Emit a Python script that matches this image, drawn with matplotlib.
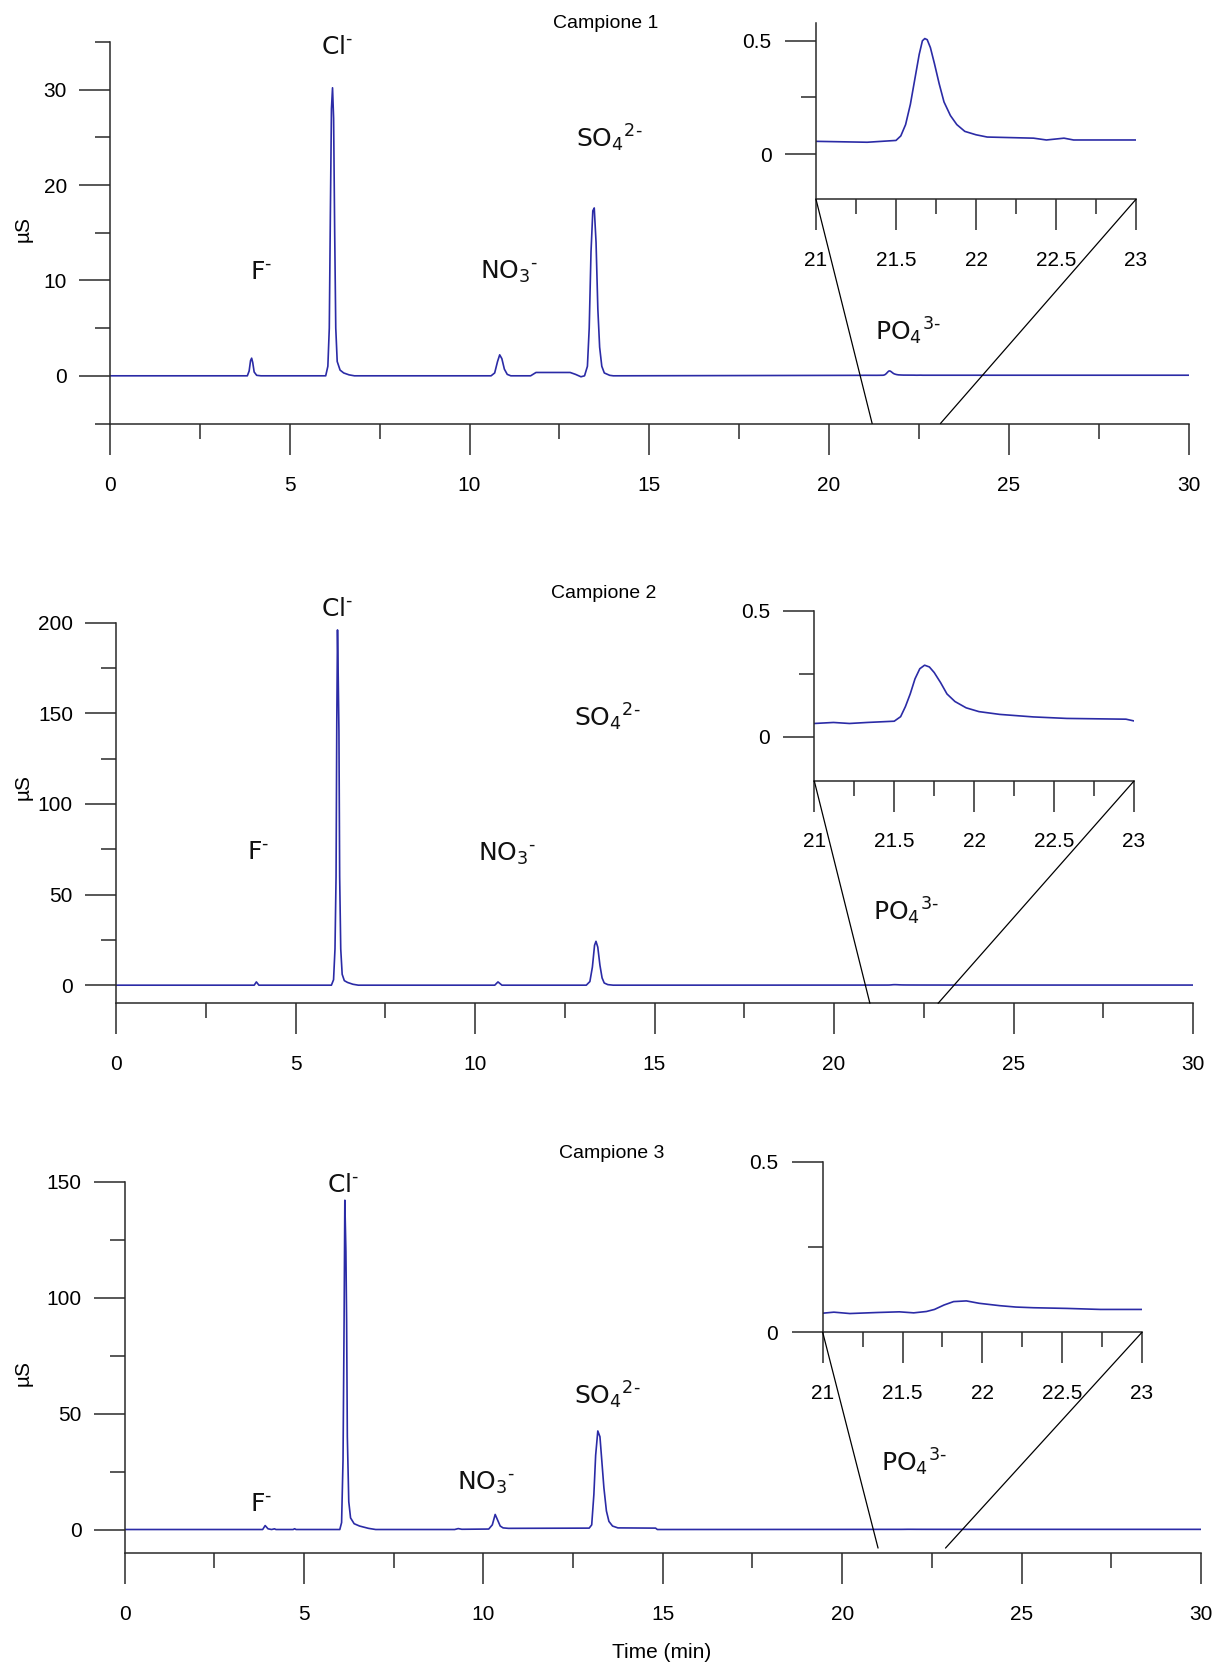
import matplotlib
matplotlib.use("Agg")
import matplotlib.pyplot as plt
from matplotlib.patches import ConnectionPatch

plt.rcParams['font.family'] = ['Liberation Sans', 'DejaVu Sans']
plt.rcParams['mathtext.fontset'] = 'dejavusans'

# --- chromatogram traces (time in min, signal in uS) ---
t1 = [0, 3.82, 3.87, 3.91, 3.94, 3.97, 4.01, 4.08, 4.2,
      6.0, 6.06, 6.1, 6.13, 6.16, 6.19, 6.22, 6.25, 6.28, 6.32, 6.4, 6.5, 6.65, 6.8,
      10.6, 10.7, 10.78, 10.84, 10.9, 10.97, 11.05, 11.15,
      11.7, 11.85, 12.8, 12.95, 13.1, 13.2, 13.28, 13.33, 13.38, 13.43, 13.47, 13.52,
      13.57, 13.62, 13.68, 13.75, 13.9, 14.0,
      20.9, 21.0, 21.32, 21.5, 21.53, 21.56, 21.59, 21.62, 21.645, 21.665, 21.68, 21.695,
      21.715, 21.74, 21.77, 21.8, 21.84, 21.88, 21.93, 22.0, 22.07, 22.36, 22.44, 22.55,
      22.61, 23.0, 30]
s1 = [0, 0, 0.5, 1.6, 1.85, 1.4, 0.4, 0.05, 0,
      0, 1, 5, 17, 28, 30.2, 27, 15, 5, 1.5, 0.6, 0.3, 0.1, 0,
      0, 0.3, 1.5, 2.2, 1.8, 0.7, 0.15, 0,
      0, 0.35, 0.35, 0.15, -0.1, 0, 1, 5, 13, 17.3, 17.6, 14,
      7, 3, 1, 0.3, 0.05, 0,
      0.05, 0.056, 0.052, 0.06, 0.08, 0.13, 0.22, 0.34, 0.44, 0.5, 0.51, 0.505,
      0.47, 0.4, 0.31, 0.23, 0.17, 0.13, 0.1, 0.085, 0.075, 0.07, 0.062, 0.07,
      0.062, 0.062, 0.062]

t2 = [0, 3.85, 3.91, 3.98,
      6.0, 6.06, 6.1, 6.13, 6.15, 6.17, 6.19, 6.21, 6.23, 6.26, 6.3, 6.36, 6.45, 6.6, 6.75,
      10.55, 10.64, 10.75,
      13.1, 13.2, 13.27, 13.33, 13.37, 13.42, 13.48, 13.54, 13.6, 13.7, 13.85,
      20.9, 21.0, 21.12, 21.22, 21.33, 21.5, 21.54, 21.57, 21.6, 21.63, 21.66, 21.69,
      21.72, 21.75, 21.79, 21.83, 21.88, 21.95, 22.03, 22.16, 22.37, 22.58, 22.95, 23.0, 30]
s2 = [0, 0, 1.8, 0,
      0, 3, 20, 60, 145, 196, 170, 140, 60, 20, 6, 2.5, 1.5, 0.5, 0,
      0, 1.8, 0,
      0, 2, 10, 22, 24.2, 21, 11, 4, 1.2, 0.3, 0,
      0.05, 0.053, 0.057, 0.053, 0.057, 0.062, 0.08, 0.12, 0.17, 0.23, 0.27, 0.284,
      0.277, 0.255, 0.215, 0.17, 0.14, 0.115, 0.1, 0.089, 0.079, 0.073, 0.07, 0.063, 0.063]

t3 = [0, 3.85, 3.92, 4.0, 4.1, 4.18, 4.22, 4.7, 4.74, 4.78,
      6.0, 6.05, 6.09, 6.12, 6.14, 6.17, 6.19, 6.21, 6.25, 6.3, 6.4, 6.55, 6.8, 7.0,
      9.2, 9.3, 9.4,
      10.15, 10.25, 10.33, 10.4, 10.47, 10.55, 10.7,
      12.95, 13.02, 13.08, 13.13, 13.19, 13.25, 13.3, 13.36, 13.43, 13.5, 13.6, 13.75,
      14.8, 14.85,
      20.9, 21.0, 21.07, 21.17, 21.34, 21.48, 21.57, 21.65, 21.7, 21.76, 21.82, 21.9,
      21.98, 22.11, 22.21, 22.32, 22.53, 22.74, 23.0, 30]
s3 = [0, 0, 1.7, 0.3, 0, 0.3, 0, 0, 0.35, 0,
      0, 3, 30, 90, 142, 120, 90, 40, 12, 5, 2.5, 1.5, 0.5, 0,
      0, 0.4, 0.1,
      0.2, 2, 6.5, 4, 1.5, 0.7, 0.5,
      0.6, 2, 15, 32, 42.5, 40, 30, 18, 8, 3.5, 1.5, 0.7,
      0.6, 0,
      0.05, 0.056, 0.059, 0.055, 0.058, 0.06, 0.057, 0.061, 0.067, 0.08, 0.09, 0.092,
      0.085, 0.078, 0.074, 0.072, 0.07, 0.067, 0.067, 0.067]

times = [t1, t2, t3]
signals = [s1, s2, s3]
titles = ['Campione 1', 'Campione 2', 'Campione 3']

# axis scales
main_ylim = [(-5, 35), (-10, 200), (-10, 150)]
main_yticks = [[0, 10, 20, 30], [0, 50, 100, 150, 200], [0, 50, 100, 150]]
main_yminor = [[-5, 5, 15, 25, 35], [25, 75, 125, 175], [25, 75, 125]]
main_xticks = [0, 5, 10, 15, 20, 25, 30]
main_xminor = [2.5, 7.5, 12.5, 17.5, 22.5, 27.5]

inset_ylim = [(-0.2, 0.58), (-0.175, 0.5), (0, 0.5)]
inset_yticks = [0, 0.5]
inset_ylabels = ['0', '0.5']
inset_xticks = [21, 21.5, 22, 22.5, 23]
inset_xlabels = ['21', '21.5', '22', '22.5', '23']
inset_xminor = [21.25, 21.75, 22.25, 22.75]

# where the zoom lines land on the main time axis
zoom_feet_x = [(21.2, 23.1), (21.0, 22.9), (21.0, 22.88)]
zoom_feet_y = [-5, -10, -8]

# ion labels (text, x, y in data units of each panel)
ions = ['F$^{‐}$', 'Cl$^{‐}$', 'NO$_3$$^{‐}$', 'SO$_4$$^{2‐}$', 'PO$_4$$^{3‐}$']
ion_x = [[4.2, 6.33, 11.1, 13.9, 22.2],
         [3.97, 6.17, 10.9, 13.67, 22.0],
         [3.8, 6.08, 10.09, 13.44, 22.0]]
ion_y = [[10.9, 34.5, 10.9, 24.9, 4.7],
         [73.3, 207.6, 72.7, 147.8, 41],
         [11.2, 148.7, 20.1, 58, 29]]

# layout in pixels of the 1214 x 1668 canvas: left, right, top, bottom
W, H = 1214, 1668
main_px = [(110, 1188.5, 42, 423.5), (116, 1193, 622.7, 1003.3), (124.5, 1201, 1181.7, 1552.7)]
inset_px = [(816, 1136, 22.7, 199.3), (814.3, 1134, 610.7, 781), (822.7, 1142, 1161.7, 1332.3)]
title_px = [(606, 23), (604, 593), (612, 1153)]
ylabel_py = [229, 787, 1373]

line_color = '#2b2ba6'
axis_color = '#2a2a2a'


def rect(box):
    left, right, top, bottom = box
    return [left / W, 1 - bottom / H, (right - left) / W, (bottom - top) / H]


def style(ax, xpad=15.5, ypad=9):
    for side in ['top', 'right']:
        ax.spines[side].set_visible(False)
    for side in ['left', 'bottom']:
        ax.spines[side].set_color(axis_color)
        ax.spines[side].set_linewidth(1.1)
    ax.tick_params(which='major', length=22, width=1.1, color=axis_color, labelsize=15)
    ax.tick_params(which='minor', length=11, width=1.1, color=axis_color)
    ax.tick_params(axis='x', which='major', pad=xpad)
    ax.tick_params(axis='y', which='major', pad=ypad)
    ax.patch.set_alpha(0)


fig = plt.figure(figsize=(W / 100, H / 100), dpi=100)

for i in range(3):
    ax = fig.add_axes(rect(main_px[i]))
    ax.plot(times[i], signals[i], color=line_color, lw=1.2)
    ax.set_xlim(0, 30)
    ax.set_ylim(*main_ylim[i])
    ax.set_xticks(main_xticks)
    ax.set_xticks(main_xminor, minor=True)
    ax.set_yticks(main_yticks[i])
    ax.set_yticks(main_yminor[i], minor=True)
    style(ax)

    for lab, x, y in zip(ions, ion_x[i], ion_y[i]):
        ax.text(x, y, lab, ha='center', va='center', fontsize=18,
                family=['DejaVu Sans'], color='#111111')

    ins = fig.add_axes(rect(inset_px[i]))
    ins.plot(times[i], signals[i], color=line_color, lw=1.2)
    ins.set_xlim(21, 23)
    ins.set_ylim(*inset_ylim[i])
    ins.set_xticks(inset_xticks)
    ins.set_xticklabels(inset_xlabels)
    ins.set_xticks(inset_xminor, minor=True)
    ins.set_yticks(inset_yticks)
    ins.set_yticklabels(inset_ylabels)
    ins.set_yticks([0.25], minor=True)
    style(ins, xpad=15, ypad=10)

    y_lo = inset_ylim[i][0]
    for x_in, x_foot in zip((21, 23), zoom_feet_x[i]):
        con = ConnectionPatch(xyA=(x_in, y_lo), coordsA=ins.transData,
                              xyB=(x_foot, zoom_feet_y[i]), coordsB=ax.transData,
                              color='black', lw=0.9)
        fig.add_artist(con)

    tx, ty = title_px[i]
    fig.text(tx / W, 1 - ty / H, titles[i], ha='center', va='center', fontsize=14)
    fig.text(23 / W, 1 - ylabel_py[i] / H, 'µS', rotation=90, ha='center', va='center',
             fontsize=15)

fig.text(662 / W, 1 - 1652 / H, 'Time (min)', ha='center', va='center', fontsize=15)

fig.savefig('out.png', dpi=100)
